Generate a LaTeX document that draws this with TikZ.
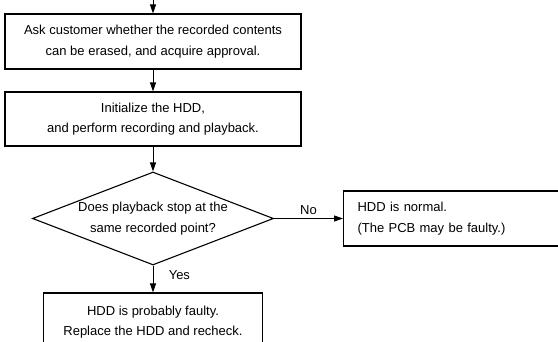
\documentclass[tikz,border=0pt]{standalone}
\usepackage{fontspec}
\setmainfont{Liberation Sans}
\usetikzlibrary{shapes.geometric,arrows.meta}

\begin{document}
\begin{tikzpicture}
        [x=1pt, y=-1pt,
        font=\fontsize{13}{20.5}\selectfont,
        box/.style={rectangle, draw, line width=1.1pt, align=center, inner sep=0pt},
        check/.style={diamond, draw, line width=1.1pt, aspect=2.6, align=center,
                inner sep=0pt, minimum width=241pt, minimum height=93pt},
        flow/.style={line width=0.9pt, -{Triangle[length=9pt, width=6pt]}}]

        \clip (0, 0) rectangle (558, 342);

        \coordinate (start) at (153, 0);
        \node[box, minimum width=296pt, minimum height=55pt] (ask) at (153, 41.5)
                {Ask customer whether the recorded contents\\can be erased, and acquire approval.};
        \node[box, minimum width=296pt, minimum height=54pt] (init) at (153, 119)
                {Initialize the HDD,\\and perform recording and playback.};
        \node[check] (stop) at (153, 218.5)
                {Does playback stop at the\\same recorded point?};
        \node[box, minimum width=219pt, minimum height=58pt] (faulty) at (153, 322)
                {HDD is probably faulty.\\Replace the HDD and recheck.};
        \node[box, anchor=west, align=left, text width=232pt, inner xsep=14pt,
                minimum height=55pt] (normal) at (343, 218.5)
                {HDD is normal.\\(The PCB may be faulty.)};

        % flow
        \draw[flow] (start) -- (ask);
        \draw[flow] (ask) -- (init);
        \draw[flow] (init) -- (stop);
        \draw[flow] (stop) -- (faulty) node[pos=0.35, right=12pt] {Yes};
        \draw[flow] (stop.east) -- (normal.west) node[midway, above] {No};

\end{tikzpicture}
\end{document}
